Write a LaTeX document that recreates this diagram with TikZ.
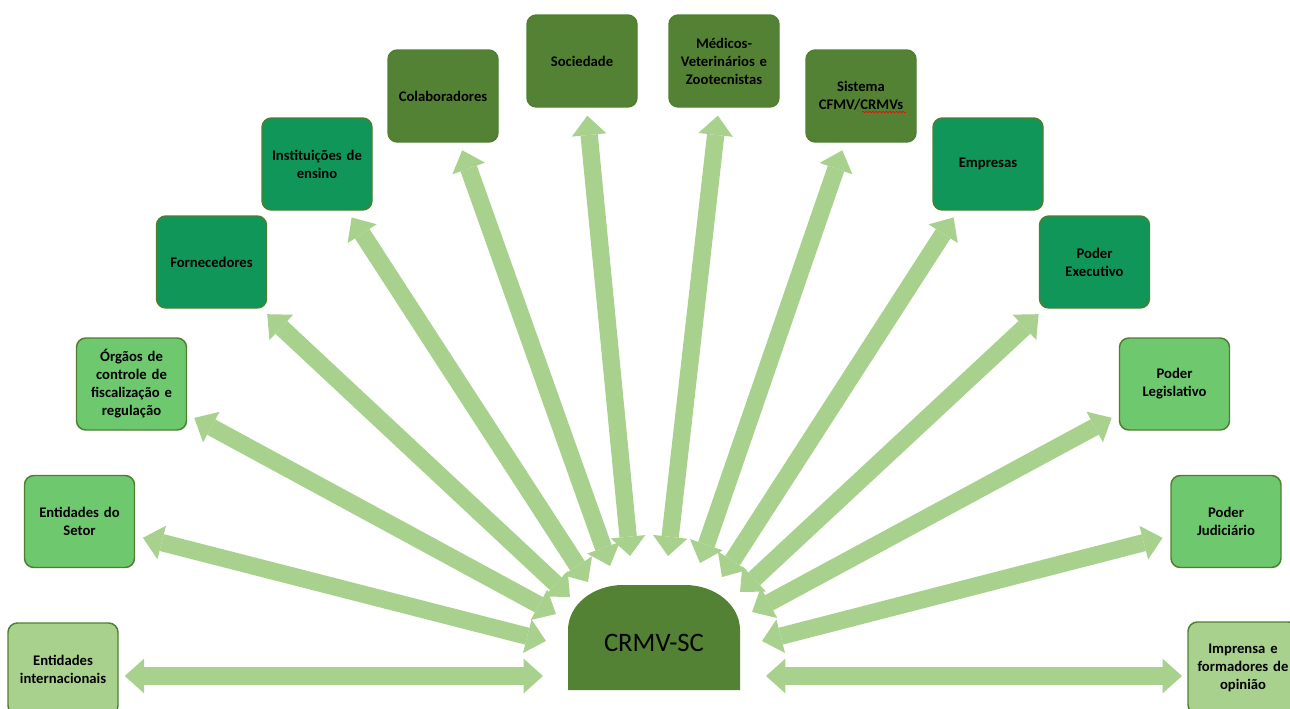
\documentclass[tikz,border=0pt]{standalone}
\usepackage{fontspec}
\setmainfont{Carlito}
\usetikzlibrary{arrows.meta,decorations.pathmorphing}
\definecolor{oliva}{HTML}{548235}
\definecolor{teal2}{RGB}{17,150,90}
\definecolor{verdemedio}{RGB}{110,200,110}
\definecolor{verdeclaro}{HTML}{A9D18E}
\definecolor{borda}{HTML}{4E7F30}
\tikzset{
  caixa/.style={draw=borda, line width=1.1pt, rounded corners=7pt,
    minimum width=82.5pt, minimum height=69pt, text width=78pt,
    align=center, inner sep=0pt, font=\bfseries\fontsize{11}{13.5}\selectfont},
  seta/.style={draw=verdeclaro, line width=13pt, {Triangle[width=26pt,length=14.5pt,line width=0pt]}-{Triangle[width=26pt,length=14.5pt,line width=0pt]}, shorten >=6pt}
}
\begin{document}
\begin{tikzpicture}[x=0.75pt,y=-0.75pt]
    \useasboundingbox (0,0) rectangle (1290,708);
    \fill[oliva] (568,690) -- (568,630) arc[start angle=180,end angle=270,x radius=55,y radius=45]
        -- (685,585) arc[start angle=270,end angle=360,x radius=55,y radius=45] -- (740,690) -- cycle;
    \node (crmv) at (654,643) {\fontsize{20}{24}\selectfont CRMV-SC};
    \node[caixa, fill=verdeclaro] (ei) at (63,669) {Entidades\\internacionais};
    \node[caixa, fill=verdemedio] (es) at (79.5,521.5) {Entidades do\\Setor};
    \node[caixa, fill=verdemedio] (org) at (131.5,384) {Órgãos de\\controle de\\fiscalização e\\regulação};
    \node[caixa, fill=teal2] (forn) at (211.5,262) {Fornecedores};
    \node[caixa, fill=teal2] (inst) at (317,164) {Instituições de\\ensino};
    \node[caixa, fill=oliva] (colab) at (443,96) {Colaboradores};
    \node[caixa, fill=oliva] (soc) at (582,61) {Sociedade};
    \node[caixa, fill=oliva] (med) at (724,61) {Médicos-\\Veterinários e\\Zootecnistas};
    \node[caixa, fill=oliva] (sist) at (861,96) {Sistema\\CFMV/CRMVs};
    \node[caixa, fill=teal2] (emp) at (988,164) {Empresas};
    \node[caixa, fill=teal2] (pe) at (1094.5,262) {Poder\\Executivo};
    \node[caixa, fill=verdemedio] (pl) at (1174.5,384) {Poder\\Legislativo};
    \node[caixa, fill=verdemedio] (pj) at (1226,521.5) {Poder\\Judiciário};
    \node[caixa, fill=verdeclaro] (imp) at (1243,668) {Imprensa e\\formadores de\\opinião};
    \draw[red, line width=0.5pt, decorate, decoration={snake,amplitude=0.5pt,segment length=2.5pt}] (862,112) -- (906,112);
    \coordinate (c1) at (543,676);
    \coordinate (c2) at (546,641);
    \coordinate (c3) at (556,614);
    \coordinate (c4) at (570,597);
    \coordinate (c5) at (588,582);
    \coordinate (c6) at (610,566);
    \coordinate (c7) at (630,556);
    \coordinate (c8) at (668,556);
    \coordinate (c9) at (700,563);
    \coordinate (c10) at (722,577);
    \coordinate (c11) at (740,592);
    \coordinate (c12) at (752,612);
    \coordinate (c13) at (762,641);
    \coordinate (c14) at (766,676);
    \draw[seta, shorten >=4.5pt] (c1) -- (c1 -| ei.east);
    \draw[seta] (c2) -- (es);
    \draw[seta] (c3) -- (org);
    \draw[seta] (c4) -- (forn);
    \draw[seta] (c5) -- (inst);
    \draw[seta] (c6) -- (colab);
    \draw[seta] (c7) -- (soc);
    \draw[seta] (c8) -- (med);
    \draw[seta] (c9) -- (sist);
    \draw[seta] (c10) -- (emp);
    \draw[seta] (c11) -- (pe);
    \draw[seta] (c12) -- (pl);
    \draw[seta] (c13) -- (pj);
    \draw[seta, shorten >=4pt] (c14) -- (c14 -| imp.west);
\end{tikzpicture}
\end{document}
